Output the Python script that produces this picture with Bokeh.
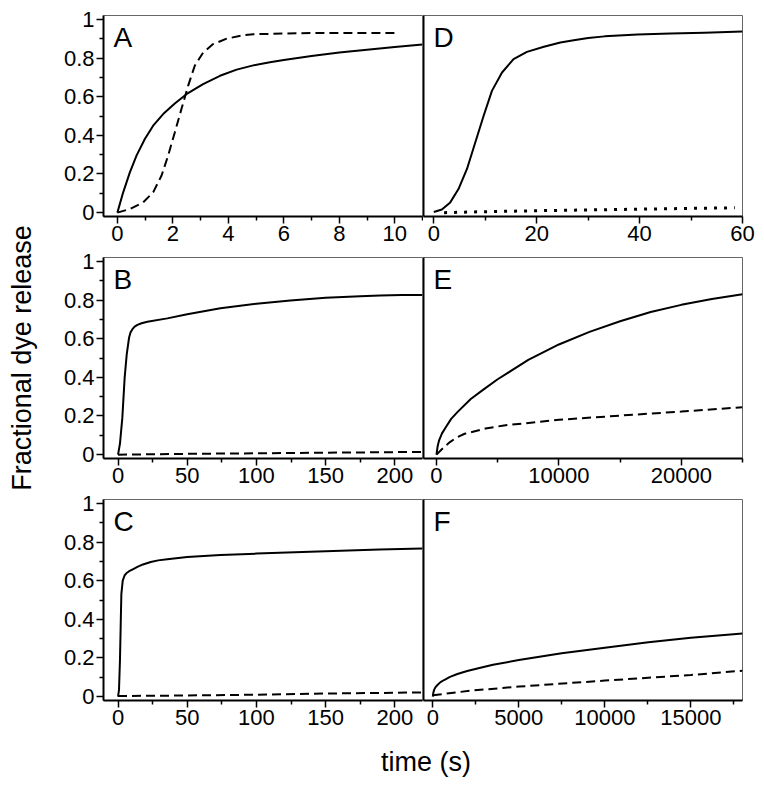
from bokeh.plotting import figure
from bokeh.layouts import row, column
from bokeh.models import Range1d, FixedTicker, Label
from bokeh.embed import file_html
from bokeh.resources import INLINE

FONT = "Liberation Sans"

# ---------------- data ----------------
# Panel A
a_solid_x = [0, 0.21, 0.45, 0.69, 0.99, 1.29, 1.65, 2.07, 2.49, 3.09, 3.7, 4.3, 4.9, 5.5, 6.0, 7.0, 8.0, 9.0, 10.0, 11.0]
a_solid_y = [0, 0.105, 0.208, 0.295, 0.381, 0.45, 0.51, 0.565, 0.613, 0.665, 0.708, 0.74, 0.762, 0.778, 0.79, 0.81, 0.828, 0.843, 0.857, 0.87]
a_dash_x = [0, 0.45, 0.93, 1.29, 1.59, 1.83, 2.07, 2.31, 2.55, 2.79, 3.09, 3.45, 3.94, 4.54, 4.9, 5.5, 6.0, 7.0, 8.0, 9.0, 10.0]
a_dash_y = [0, 0.019, 0.053, 0.105, 0.191, 0.295, 0.415, 0.536, 0.656, 0.76, 0.828, 0.872, 0.90, 0.918, 0.923, 0.925, 0.927, 0.929, 0.93, 0.93, 0.93]

# Panel D
d_solid_x = [0, 1.57, 3.2, 4.8, 6.45, 8.06, 9.69, 11.3, 13.26, 15.5, 18.1, 21.4, 24.6, 27.2, 30, 33.2, 39.6, 46, 52.6, 60]
d_solid_y = [0.003, 0.016, 0.053, 0.122, 0.226, 0.363, 0.501, 0.63, 0.725, 0.794, 0.832, 0.858, 0.88, 0.892, 0.903, 0.912, 0.922, 0.927, 0.931, 0.937]
d_dot_x = [2, 10, 20, 30, 40, 50, 58.5]
d_dot_y = [0.0, 0.005, 0.01, 0.014, 0.018, 0.022, 0.025]

# Panel B
b_solid_x = [0, 1.4, 3.1, 4.8, 6.3, 8.0, 9.0, 10.4, 12, 14, 17, 21.2, 35.6, 50, 74, 100, 124.5, 150, 175, 189.4, 205, 220]
b_solid_y = [0, 0.057, 0.19, 0.40, 0.52, 0.606, 0.632, 0.649, 0.662, 0.671, 0.68, 0.688, 0.705, 0.726, 0.757, 0.781, 0.798, 0.812, 0.82, 0.824, 0.826, 0.826]
b_dash_x = [0, 50, 100, 150, 220]
b_dash_y = [0.0, 0.004, 0.007, 0.01, 0.014]

# Panel E
e_solid_x = [0, 100, 215, 450, 760, 1200, 1710, 2800, 3800, 5000, 7500, 10000, 12500, 15000, 17500, 20000, 22500, 25000]
e_solid_y = [0, 0.045, 0.074, 0.11, 0.142, 0.185, 0.22, 0.288, 0.335, 0.39, 0.49, 0.57, 0.635, 0.69, 0.738, 0.775, 0.805, 0.83]
e_dash_x = [0, 620, 1100, 1710, 2300, 3060, 4000, 5510, 10000, 15000, 20000, 25000]
e_dash_y = [0, 0.039, 0.065, 0.091, 0.108, 0.12, 0.135, 0.151, 0.18, 0.202, 0.223, 0.245]

# Panel C
c_solid_x = [0, 0.7, 1.4, 1.9, 2.4, 3.4, 4.8, 6, 8, 11, 14, 18, 23.6, 29, 35.6, 50, 74, 100, 150, 189, 220]
c_solid_y = [0, 0.035, 0.19, 0.36, 0.53, 0.60, 0.628, 0.638, 0.649, 0.66, 0.671, 0.684, 0.697, 0.705, 0.711, 0.723, 0.733, 0.740, 0.752, 0.761, 0.766]
c_dash_x = [0, 50, 100, 150, 200, 220]
c_dash_y = [0.003, 0.006, 0.01, 0.016, 0.02, 0.022]

# Panel F
f_solid_x = [0, 30, 77, 150, 270, 450, 656, 1000, 1430, 2000, 2590, 3500, 5000, 7490, 10000, 12530, 15000, 18000]
f_solid_y = [0, 0.02, 0.035, 0.048, 0.06, 0.075, 0.086, 0.102, 0.117, 0.133, 0.146, 0.165, 0.189, 0.224, 0.253, 0.281, 0.305, 0.327]
f_dash_x = [0, 2200, 5000, 10000, 15000, 18000]
f_dash_y = [0.007, 0.031, 0.052, 0.083, 0.112, 0.134]

# ticks
y_ticks = [0, 0.2, 0.4, 0.6, 0.8, 1.0]
y_tick_labels = ["0", "0.2", "0.4", "0.6", "0.8", "1"]
y_minor = [0.1, 0.3, 0.5, 0.7, 0.9]

a_ticks, a_minor = [0, 2, 4, 6, 8, 10], [1, 3, 5, 7, 9, 11]
d_ticks, d_minor = [0, 20, 40, 60], [10, 30, 50]
bc_ticks, bc_minor = [0, 50, 100, 150, 200], [25, 75, 125, 175]
e_ticks, e_minor = [0, 10000, 20000], [5000, 15000, 25000]
f_ticks, f_minor = [0, 5000, 10000, 15000], [2500, 7500, 12500, 17500]

panel_letters = ["A", "B", "C", "D", "E", "F"]
x_label = "time (s)"
y_label = "Fractional dye release"

# ---------------- layout helpers ----------------
FW, FH = 319, 201
YR = (-0.02, 1.02)


def panel(xr, ticks, minor, letter, lines, left, top_b, bot_b):
    p = figure(frame_width=FW, frame_height=FH,
               x_range=Range1d(*xr), y_range=Range1d(*YR),
               output_backend="svg", toolbar_location=None,
               min_border_left=45 if left else 0,
               min_border_right=1 if left else 14,
               min_border_top=top_b, min_border_bottom=bot_b,
               background_fill_color="white", border_fill_color="white")
    p.grid.visible = False
    p.outline_line_color = "#666666"
    p.outline_line_width = 1

    xa = p.xaxis[0]
    xa.ticker = FixedTicker(ticks=ticks, minor_ticks=minor)
    xa.major_label_overrides = {t: str(t) for t in ticks}
    ya = p.yaxis[0]
    if left:
        ya.ticker = FixedTicker(ticks=y_ticks, minor_ticks=y_minor)
        ya.major_label_overrides = dict(zip(y_ticks, y_tick_labels))
    else:
        ya.ticker = FixedTicker(ticks=[], minor_ticks=[])
    for ax in (xa, ya):
        ax.axis_line_color = "black"
        ax.axis_line_width = 2
        ax.major_tick_line_color = "black"
        ax.minor_tick_line_color = "black"
        ax.major_tick_line_width = 1.5
        ax.minor_tick_line_width = 1.5
        ax.major_tick_out = 7
        ax.major_tick_in = 0
        ax.minor_tick_out = 4
        ax.minor_tick_in = 0
        ax.major_label_text_font = FONT
        ax.major_label_text_font_size = "22px"
        ax.major_label_text_color = "black"
        ax.major_label_standoff = 2
    if not left:
        ya.major_tick_out = 0
        ya.minor_tick_out = 0
        ya.major_label_standoff = 0

    for xs, ys, style in lines:
        if style == "solid":
            p.line(xs, ys, line_color="black", line_width=2, line_join="round")
        elif style == "dash":
            p.line(xs, ys, line_color="black", line_width=2, line_dash="9 5")
        else:
            p.line(xs, ys, line_color="black", line_width=3, line_dash="3 7")

    p.add_layout(Label(x=xr[0], y=YR[1], x_offset=10, y_offset=-6, text=letter,
                       text_font=FONT, text_font_size="28px", text_color="black",
                       text_align="left", text_baseline="top"))
    return p


TOP0 = 15
pA = panel((-0.5, 11), a_ticks, a_minor, panel_letters[0],
           [(a_solid_x, a_solid_y, "solid"), (a_dash_x, a_dash_y, "dash")], True, TOP0, 34)
pD = panel((-2, 60), d_ticks, d_minor, panel_letters[3],
           [(d_solid_x, d_solid_y, "solid"), (d_dot_x, d_dot_y, "dot")], False, TOP0, 34)
pB = panel((-10.5, 220), bc_ticks, bc_minor, panel_letters[1],
           [(b_solid_x, b_solid_y, "solid"), (b_dash_x, b_dash_y, "dash")], True, 7, 34)
pE = panel((-1060, 25000), e_ticks, e_minor, panel_letters[4],
           [(e_solid_x, e_solid_y, "solid"), (e_dash_x, e_dash_y, "dash")], False, 7, 34)
pC = panel((-10.5, 220), bc_ticks, bc_minor, panel_letters[2],
           [(c_solid_x, c_solid_y, "solid"), (c_dash_x, c_dash_y, "dash")], True, 7, 36)
pF = panel((-540, 18000), f_ticks, f_minor, panel_letters[5],
           [(f_solid_x, f_solid_y, "solid"), (f_dash_x, f_dash_y, "dash")], False, 7, 36)

GRID_H = (TOP0 + FH + 34) + (7 + FH + 34) + (7 + FH + 36)
YL_W = 58
yl = figure(width=YL_W, height=GRID_H, x_range=Range1d(0, YL_W), y_range=Range1d(0, GRID_H),
            x_axis_type=None, y_axis_type=None, min_border=0, outline_line_color=None,
            output_backend="svg", toolbar_location=None)
yl.grid.visible = False
yl.add_layout(Label(x=21, y=GRID_H - 357.5, text=y_label, angle=90, angle_units="deg",
                    text_font=FONT, text_font_size="27px", text_color="black",
                    text_align="center", text_baseline="middle"))

TOT_W = YL_W + (45 + FW + 1) + (FW + 14)
XL_H = 42
xl = figure(width=TOT_W, height=XL_H, x_range=Range1d(0, TOT_W), y_range=Range1d(0, XL_H),
            x_axis_type=None, y_axis_type=None, min_border=0, outline_line_color=None,
            output_backend="svg", toolbar_location=None)
xl.grid.visible = False
xl.add_layout(Label(x=425.5, y=17, text=x_label,
                    text_font=FONT, text_font_size="27px", text_color="black",
                    text_align="center", text_baseline="middle"))

layout = column(row(yl, column(row(pA, pD), row(pB, pE), row(pC, pF))), xl)

open("out.html", "w").write(file_html(layout, INLINE))
